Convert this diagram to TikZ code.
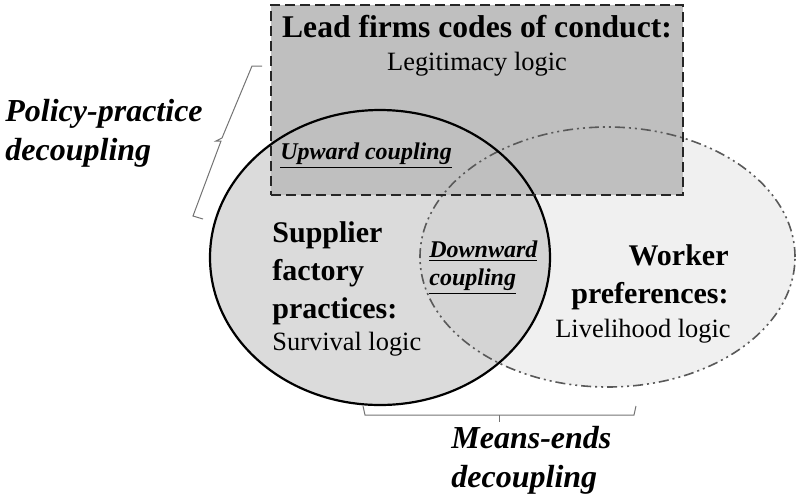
\documentclass[tikz,border=0pt]{standalone}
\usepackage{fontspec}
\setmainfont{Liberation Serif}
\usetikzlibrary{shapes.geometric}
\definecolor{wfill}{gray}{0.94}
\definecolor{sfill}{gray}{0.86}
\definecolor{ofill}{gray}{0.83}
\definecolor{rfill}{gray}{0.75}
\definecolor{wline}{gray}{0.35}
\definecolor{bline}{gray}{0.45}
\tikzset{
  bigbold/.style={font=\fontsize{15}{19}\selectfont\bfseries, inner sep=0pt},
  logic/.style={font=\fontsize{13.2}{16}\selectfont, inner sep=0pt},
  coupl/.style={font=\fontsize{12}{14}\selectfont\bfseries\itshape, inner sep=0pt},
  decoup/.style={font=\fontsize{16}{19.5}\selectfont\bfseries\itshape, inner sep=0pt},
  bracketline/.style={draw=bline, line width=0.5pt},
}
\begin{document}
\begin{tikzpicture}[x=0.5pt,y=-0.5pt]
\useasboundingbox (0,0) rectangle (800,500);
% fills
\fill[wfill] (607.5,257) ellipse [x radius=187.5, y radius=130];
\fill[sfill] (380,257.5) ellipse [x radius=170, y radius=147.5];
\begin{scope}
  \clip (380,257.5) ellipse [x radius=170, y radius=147.5];
  \fill[ofill] (607.5,257) ellipse [x radius=187.5, y radius=130];
\end{scope}
\fill[rfill] (271,5) rectangle (683,195);
% outlines
\node[ellipse, draw=wline, line width=0.8pt, dash pattern=on 5pt off 2pt on 1pt off 2pt on 1pt off 2pt,
      minimum width=187.5pt, minimum height=130pt, inner sep=0pt, outer sep=0pt] (worker) at (607.5,257) {};
\node[ellipse, draw=black, line width=1.1pt,
      minimum width=170pt, minimum height=147.5pt, inner sep=0pt, outer sep=0pt] (supplier) at (380,257.5) {};
\node[rectangle, draw=black!85, line width=1.4pt, dash pattern=on 5pt off 2.5pt,
      minimum width=206pt, minimum height=95pt, inner sep=0pt, outer sep=0pt] (lead) at (477,100) {};
% texts
\node[inner sep=0pt, anchor=base, font=\fontsize{15.8}{19}\selectfont\bfseries] (leadt) at (477,37) {Lead firms codes of conduct:};
\node[logic, anchor=base] (legit) at (477,70) {Legitimacy logic};
\node[coupl, anchor=base west] (upward) at (280,159) {\underline{Upward coupling}};
\node[bigbold, anchor=base west, align=left] (supt) at (272,318) {Supplier\\factory\\practices:};
\node[logic, anchor=base west] (survival) at (272,350) {Survival logic};
\node[coupl, anchor=base west, align=left] (downward) at (429,285) {\underline{Downward}\\[0pt]\underline{coupling}};
\node[bigbold, anchor=base east, align=right] (workt) at (729,303) {Worker\\preferences:};
\node[logic, anchor=base east] (livelihood) at (731,337) {Livelihood logic};
\node[decoup, anchor=base west, align=left] (policy) at (5,160) {Policy-practice\\decoupling};
\node[decoup, anchor=base west, align=left] (means) at (451,487) {Means-ends\\decoupling};
% brackets
\coordinate (lb1) at (262,66);
\coordinate (lb2) at (252,66);
\coordinate (lbm) at (222,138);
\coordinate (lbt) at (216,141);
\coordinate (lbm2) at (221,141);
\coordinate (lb3) at (193,216);
\coordinate (lb4) at (203,219);
\draw[bracketline] (lb1) -- (lb2) -- (lbm) -- (lbt) -- (lbm2) -- (lb3) -- (lb4);
\coordinate (bb1) at (363,406);
\coordinate (bb2) at (365,415);
\coordinate (bb3) at (634,415);
\coordinate (bb4) at (636,406);
\coordinate (bbm) at (499,415);
\coordinate (bbt) at (499,422);
\draw[bracketline] (bb1) -- (bb2) -- (bb3) -- (bb4);
\draw[bracketline] (bbm) -- (bbt);
\end{tikzpicture}
\end{document}
